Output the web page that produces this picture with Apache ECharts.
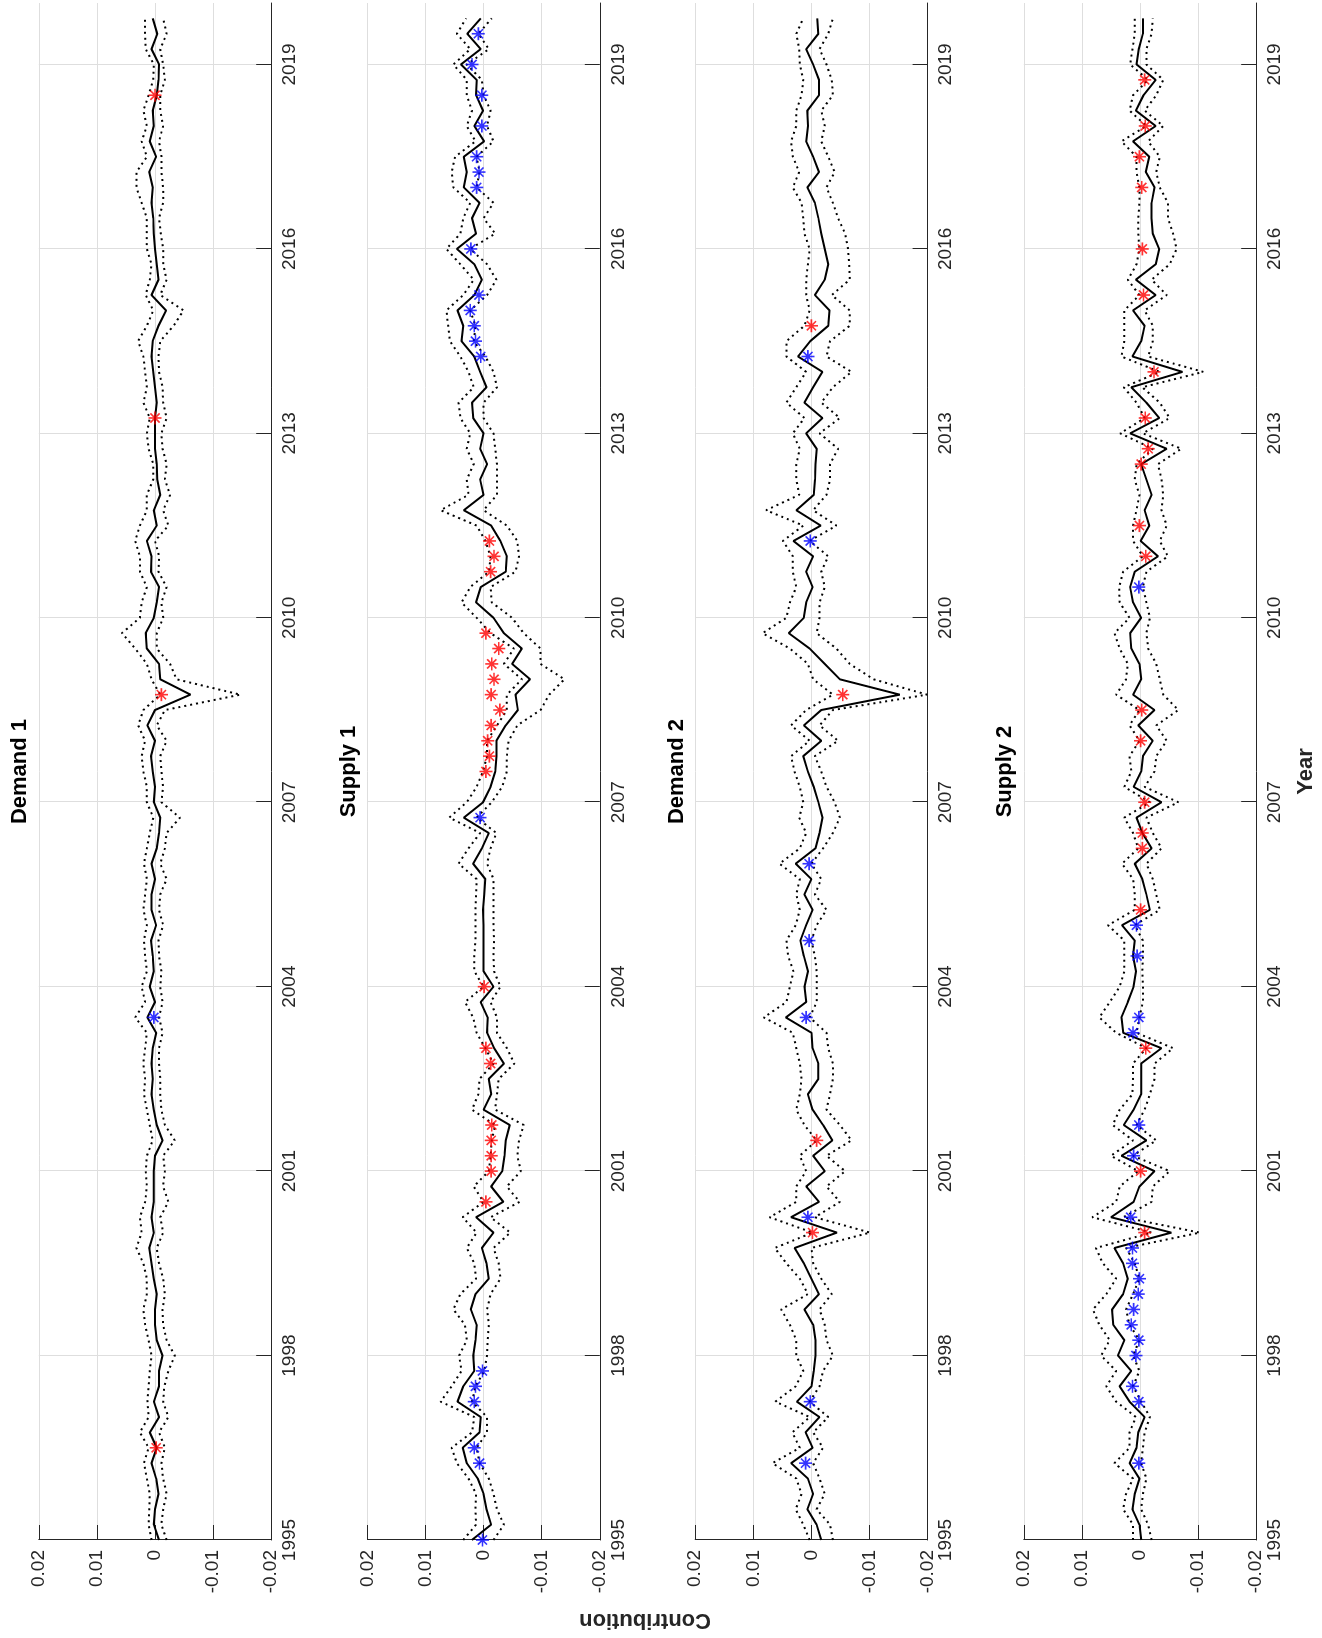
<!DOCTYPE html>
<html>
<head>
<meta charset="utf-8">
<title>Historical contributions</title>
<script src="https://cdn.jsdelivr.net/npm/echarts@6/dist/echarts.min.js"></script>
<style>
  html, body { margin: 0; padding: 0; background: #fff; overflow: hidden; }
  #stage { position: absolute; left: 0; top: 0; width: 1322px; height: 1638px; overflow: hidden; background: #fff; }
  /* the figure is laid out landscape and turned a quarter-turn counter-clockwise */
  #chart { position: absolute; left: 0; top: 0; width: 1638px; height: 1322px;
           transform-origin: 0 0; transform: translateY(1638px) rotate(-90deg); }
</style>
</head>
<body>
<div id="stage"><div id="chart"></div></div>
<script>
// ---- data -------------------------------------------------------------
// quarterly observations 1995Q1 .. 2019Q4; contributions stored in units of 0.0001
const FIRST_YEAR = 1995;
const N_QUARTERS = 100;
const UNIT = 1e-4;

const panelTitles = ['Demand 1', 'Supply 1', 'Demand 2', 'Supply 2'];
const yearTicks = [1995, 1998, 2001, 2004, 2007, 2010, 2013, 2016, 2019];

const demand1Median = [
  -7,2,0,-6,-2,6,-3,9,-7,2,-7,-7,-13,-3,0,0,-3,2,6,10,2,6,2,2,2,0,-13,-3,2,6,
  4,6,4,-2,13,0,9,2,4,7,-2,6,6,0,6,-3,-7,-9,2,0,4,7,0,13,0,-61,-9,-7,14,16,2,-3,-7,7,6,14,
  -3,2,-9,-4,-3,0,0,0,-3,0,3,6,4,-6,-19,6,-6,-3,0,2,3,6,4,10,-2,9,2,4,-3,-6,-7,6,-4,4];
const demand1Upper = [
  6,11,10,9,14,19,11,26,11,13,11,9,6,11,17,20,14,14,20,32,23,26,17,14,16,14,4,9,14,19,
  17,20,17,14,34,17,23,14,17,19,14,20,17,14,19,14,9,3,14,14,20,23,17,29,20,-9,6,14,34,57,26,23,14,26,26,34,
  26,14,14,3,3,11,14,9,20,14,17,20,29,14,3,16,9,6,14,14,14,23,32,32,14,23,14,20,11,3,2,16,17,17];
const demand1Lower = [
  -20,-11,-14,-20,-14,-11,-17,-7,-23,-14,-16,-23,-34,-20,-14,-13,-17,-14,-7,-3,-14,-9,-23,-14,-17,-14,-34,-17,-11,-9,
  -9,-7,-7,-13,-7,-13,-9,-11,-7,-6,-14,-7,-9,-20,-9,-17,-20,-43,-11,-14,-11,-9,-20,-3,-17,-147,-37,-26,-3,-3,-14,-11,-20,-6,-7,0,
  -23,-14,-26,-17,-20,-13,-11,-20,-14,-13,-7,-6,-9,-32,-49,-9,-20,-14,-14,-10,-7,-14,-14,-11,-11,-7,-14,-9,-9,-17,-14,-9,-20,-14];
const demand1Red = [[1996.5,-2],[2008.75,-11],[2013.25,0],[2018.5,0]];
const demand1Blue = [[2003.5,2]];

const supply1Median = [
  20,-13,-5,0,10,29,36,7,5,45,35,16,18,14,12,22,14,-9,-5,3,-17,13,-34,-13,-32,-36,-38,-45,0,-13,
  -9,-35,-18,-6,-7,5,-17,0,0,0,0,1,-1,-3,18,3,-9,34,1,-12,-20,-22,-22,-38,-59,-55,-80,-49,-66,-35,-17,13,5,-38,-40,-29,
  -13,34,0,6,-6,6,0,18,20,-5,6,16,38,35,45,16,3,16,46,13,20,7,34,29,34,-1,16,1,13,12,39,5,28,5];
const supply1Upper = [
  35,13,14,13,26,46,55,20,16,74,55,38,42,29,32,52,40,13,16,29,12,36,0,17,-9,-12,-14,-20,20,9,
  7,-17,-3,12,18,32,0,16,16,14,14,14,13,12,43,26,6,59,29,12,1,-6,-6,-23,-40,-40,-66,-35,-52,-12,12,38,23,-9,-12,-3,
  12,74,26,29,17,29,23,40,43,17,26,40,58,61,64,35,17,40,64,40,35,23,52,55,49,14,29,20,29,29,52,23,46,30];
const supply1Lower = [
  -17,-35,-23,-17,-9,7,12,-6,-6,20,14,-1,-6,-7,-9,-6,-12,-29,-26,-17,-46,-12,-62,-40,-64,-58,-61,-69,-20,-23,
  -26,-53,-40,-23,-23,-12,-29,-18,-17,-18,-17,-17,-17,-17,-6,-12,-22,12,-14,-32,-40,-40,-43,-58,-98,-113,-139,-98,-98,-69,-49,-14,-12,-55,-61,-58,
  -40,0,-23,-23,-23,-20,-17,0,0,-23,-17,-3,17,14,23,-6,-22,-6,23,-20,0,-17,12,7,12,-17,-6,-12,0,3,29,-9,9,-14];
const supply1Red = [
  [2000.5,-4],[2001,-13],[2001.25,-13],[2001.5,-13],[2001.75,-14],[2002.75,-12],[2003,-4],[2004,-1],
  [2007.5,-4],[2007.75,-10],[2008,-7],[2008.25,-13],[2008.5,-28],[2008.75,-13],[2009,-18],[2009.25,-14],
  [2009.5,-26],[2009.75,-4],[2010.75,-12],[2011,-18],[2011.25,-10]];
const supply1Blue = [
  [1995,2],[1996.25,7],[1996.5,16],[1997.25,16],[1997.5,14],[1997.75,2],[2006.75,6],
  [2014.25,5],[2014.5,14],[2014.75,16],[2015,23],[2015.25,8],[2016,22],[2017,12],[2017.25,8],
  [2017.5,12],[2018,3],[2018.5,3],[2019,20],[2019.5,9]];

const demand2Median = [
  -17,-9,7,-3,6,35,-2,10,-14,25,0,-4,-7,-7,-3,12,-13,0,13,29,-44,35,-13,9,-23,-3,-36,-20,-2,6,
  -12,-12,-2,0,44,9,12,6,13,19,9,-2,12,0,27,-7,-14,-19,-12,-4,6,14,-17,13,-17,-152,-49,-23,3,39,13,9,-2,9,-3,31,
  -16,26,-4,-6,-7,-9,9,-19,12,-3,-19,23,2,-29,-31,-6,-23,-29,-23,-17,-12,-6,7,-13,-3,9,6,7,-13,-13,-3,9,-12,-10];
const demand2Upper = [
  3,14,27,17,26,67,20,33,3,62,27,14,26,26,37,52,6,20,43,63,-2,72,26,26,9,20,-9,12,26,20,
  17,20,26,32,82,43,37,31,40,43,27,20,26,20,55,20,9,21,14,20,29,35,3,35,9,-37,-3,6,37,84,43,37,26,32,32,49,
  14,78,21,26,26,20,32,12,43,26,9,43,43,12,3,9,9,6,3,12,14,17,32,21,32,35,26,26,17,14,20,21,26,14];
const demand2Lower = [
  -37,-32,-9,-23,-14,-3,-20,-3,-29,3,-14,-20,-37,-26,-23,-14,-35,-17,-3,0,-101,-6,-49,-26,-58,-26,-69,-49,-26,-32,
  -37,-37,-29,-26,3,-9,-9,-9,-6,0,-9,-26,-6,-17,0,-20,-37,-49,-40,-26,-17,-6,-46,-14,-37,-199,-107,-66,-43,-9,-14,-14,-23,-17,-29,3,
  -43,-3,-26,-32,-32,-46,-14,-49,-17,-37,-69,-26,-32,-66,-66,-35,-66,-65,-63,-58,-46,-37,-26,-40,-29,-17,-23,-17,-37,-35,-26,-14,-29,-37];
const demand2Red = [[2000,-2],[2001.5,-9],[2008.75,-54],[2014.75,0]];
const demand2Blue = [[1996.25,10],[1997.25,2],[2000.25,6],[2003.5,9],[2004.75,4],[2006,4],[2011.25,2],[2014.25,6]];

const supply2Median = [
  -2,1,13,9,1,18,6,3,-8,18,35,15,38,27,46,48,29,21,29,44,-54,50,11,1,-25,32,-11,28,11,-2,
  -2,-2,-37,29,32,21,11,7,12,9,31,-17,-11,-4,9,-20,-4,6,-37,11,-2,-5,-22,3,-25,12,-2,1,15,17,-2,12,17,9,-31,-1,
  -16,-8,-20,-11,-2,-46,17,-33,-11,15,-73,13,-2,-8,12,-27,7,-27,-33,-22,-20,-20,-25,-10,-16,12,-27,7,-6,-27,6,2,-5,-5];
const supply2Upper = [
  12,12,29,24,12,44,18,18,7,41,58,41,67,52,70,81,58,41,64,76,-20,82,41,35,3,50,12,47,35,13,
  12,12,-11,41,70,52,35,27,27,27,55,9,9,12,31,3,12,27,-17,27,15,18,1,18,1,41,24,21,35,44,18,35,36,29,-5,12,
  12,6,1,9,6,-22,34,-8,6,28,-34,32,27,27,27,1,21,6,1,3,3,1,1,6,6,32,-11,18,12,-14,17,13,9,9];
const supply2Lower = [
  -20,-14,-2,-5,-11,-2,-5,-8,-17,-2,12,1,12,1,18,24,12,1,9,24,-103,29,-20,-22,-51,12,-28,6,-8,-17,
  -25,-25,-57,6,1,-5,-5,-4,-5,-5,9,-34,-28,-22,-11,-37,-22,-11,-66,-8,-25,-28,-46,-28,-66,-40,-34,-28,-14,-11,-17,-11,-5,-11,-48,-34,
  -46,-37,-40,-37,-31,-71,-5,-51,-34,-4,-109,-14,-22,-22,-8,-46,-20,-51,-63,-57,-48,-48,-34,-28,-34,-14,-40,-8,-28,-40,-11,-11,-20,-22];
const supply2Red = [
  [2000,-8],[2001,-1],[2003,-10],[2005.25,-1],[2006.25,-4],[2006.5,-4],[2007,-8],[2008,-1],[2008.5,-3],
  [2011,-10],[2011.5,1],[2012.5,-2],[2012.75,-14],[2013.25,-9],[2014,-24],[2015.25,-6],[2016,-4],
  [2017,-3],[2017.5,1],[2018,-9],[2018.75,-8]];
const supply2Blue = [
  [1996.25,2],[1997.25,2],[1997.5,13],[1998,7],[1998.25,2],[1998.5,15],[1998.75,11],[1999,3],[1999.25,1],
  [1999.5,13],[1999.75,13],[2000.25,16],[2001.25,11],[2001.75,2],[2003.25,12],[2003.5,2],[2004.5,5],
  [2005,6],[2010.5,2]];

// ---- layout & style ---------------------------------------------------
const panels = [
  { median: demand1Median, upper: demand1Upper, lower: demand1Lower, red: demand1Red, blue: demand1Blue },
  { median: supply1Median, upper: supply1Upper, lower: supply1Lower, red: supply1Red, blue: supply1Blue },
  { median: demand2Median, upper: demand2Upper, lower: demand2Lower, red: demand2Red, blue: demand2Blue },
  { median: supply2Median, upper: supply2Upper, lower: supply2Lower, red: supply2Red, blue: supply2Blue }
];

const FONT = '"Liberation Sans", Arial, Helvetica, sans-serif';
const AXIS_COLOR = '#262626';
const GRID_COLOR = '#dedede';
const PANEL_TOP = [38.8, 367.4, 695.2, 1023.8];
const PANEL_H = 232.4;
const GRID_LEFT = 98, GRID_RIGHT = 3;
const AXIS_CENTER_X = GRID_LEFT + (1638 - GRID_LEFT - GRID_RIGHT) / 2;

// eight-armed asterisk marker built from four thin bars
const ASTERISK = 'path://M-6,-0.75L6,-0.75L6,0.75L-6,0.75Z' +
  'M-0.75,-6L0.75,-6L0.75,6L-0.75,6Z' +
  'M-3.713,-4.773L4.773,3.713L3.713,4.773L-4.773,-3.713Z' +
  'M-4.773,3.713L3.713,-4.773L4.773,-3.713L-3.713,4.773Z';

const quarterTimes = Array.from({ length: N_QUARTERS }, (_, k) => FIRST_YEAR + k / 4);
const toSeries = arr => quarterTimes.map((t, k) => [t, arr[k] * UNIT]);
const toPoints = arr => arr.map(p => [p[0], p[1] * UNIT]);

const grids = [], xAxes = [], yAxes = [], series = [];

panels.forEach((p, i) => {
  grids.push({ left: GRID_LEFT, right: GRID_RIGHT, top: PANEL_TOP[i], height: PANEL_H,
               containLabel: false, outerBoundsMode: 'none' });

  xAxes.push({
    type: 'value', gridIndex: i, min: 1995, max: 2020, interval: 3,
    axisLine: { show: true, onZero: false, lineStyle: { color: AXIS_COLOR, width: 1 } },
    axisTick: { show: true, inside: true, length: 15, customValues: yearTicks,
                lineStyle: { color: AXIS_COLOR, width: 1 } },
    axisLabel: { show: true, customValues: yearTicks, margin: 9,
                 fontSize: 19, fontFamily: FONT, color: AXIS_COLOR,
                 formatter: v => String(Math.round(v)) },
    splitLine: { show: true, lineStyle: { color: GRID_COLOR, width: 1 } }
  });

  yAxes.push({
    type: 'value', gridIndex: i, min: -0.02, max: 0.02, interval: 0.01,
    axisLine: { show: true, onZero: false, lineStyle: { color: AXIS_COLOR, width: 1 } },
    axisTick: { show: true, inside: true, length: 15, lineStyle: { color: AXIS_COLOR, width: 1 } },
    axisLabel: { show: true, margin: 10, fontSize: 19, fontFamily: FONT, color: AXIS_COLOR,
                 formatter: v => String(Math.round(v * 100) / 100) },
    splitLine: { show: true, lineStyle: { color: GRID_COLOR, width: 1 } }
  });

  const band = data => ({
    type: 'line', xAxisIndex: i, yAxisIndex: i, data: toSeries(data),
    symbol: 'none', silent: true, z: 3,
    lineStyle: { color: '#000', width: 2, type: [2, 4] }
  });
  series.push(band(p.upper));
  series.push(band(p.lower));
  series.push({
    type: 'line', xAxisIndex: i, yAxisIndex: i, data: toSeries(p.median),
    symbol: 'none', silent: true, z: 4,
    lineStyle: { color: '#000', width: 2, type: 'solid' }
  });
  [['#ff0000', p.red], ['#0000ff', p.blue]].forEach(([color, pts]) => {
    series.push({
      type: 'scatter', xAxisIndex: i, yAxisIndex: i, data: toPoints(pts),
      symbol: ASTERISK, symbolSize: 13, silent: true, z: 5,
      itemStyle: { color: color }
    });
  });
});

const boldText = (text, x, y, rotation, color) => ({
  type: 'text', x: x, y: y, rotation: rotation || 0, silent: true, z: 10,
  style: {
    text: text, fill: color, font: 'bold 22px ' + FONT,
    align: 'center', verticalAlign: 'middle',
    textAlign: 'center', textVerticalAlign: 'middle'
  }
});

const graphics = panelTitles.map((t, i) => boldText(t, AXIS_CENTER_X, PANEL_TOP[i] - 18.5, 0, '#000'));
graphics.push(boldText('Year', AXIS_CENTER_X, 1305.5, 0, AXIS_COLOR));
graphics.push(boldText('Contribution', 18, 645, Math.PI / 2, AXIS_COLOR));

const chart = echarts.init(document.getElementById('chart'), null, { width: 1638, height: 1322 });
chart.setOption({
  backgroundColor: '#ffffff',
  animation: false,
  grid: grids,
  xAxis: xAxes,
  yAxis: yAxes,
  series: series,
  graphic: graphics
});
</script>
</body>
</html>
